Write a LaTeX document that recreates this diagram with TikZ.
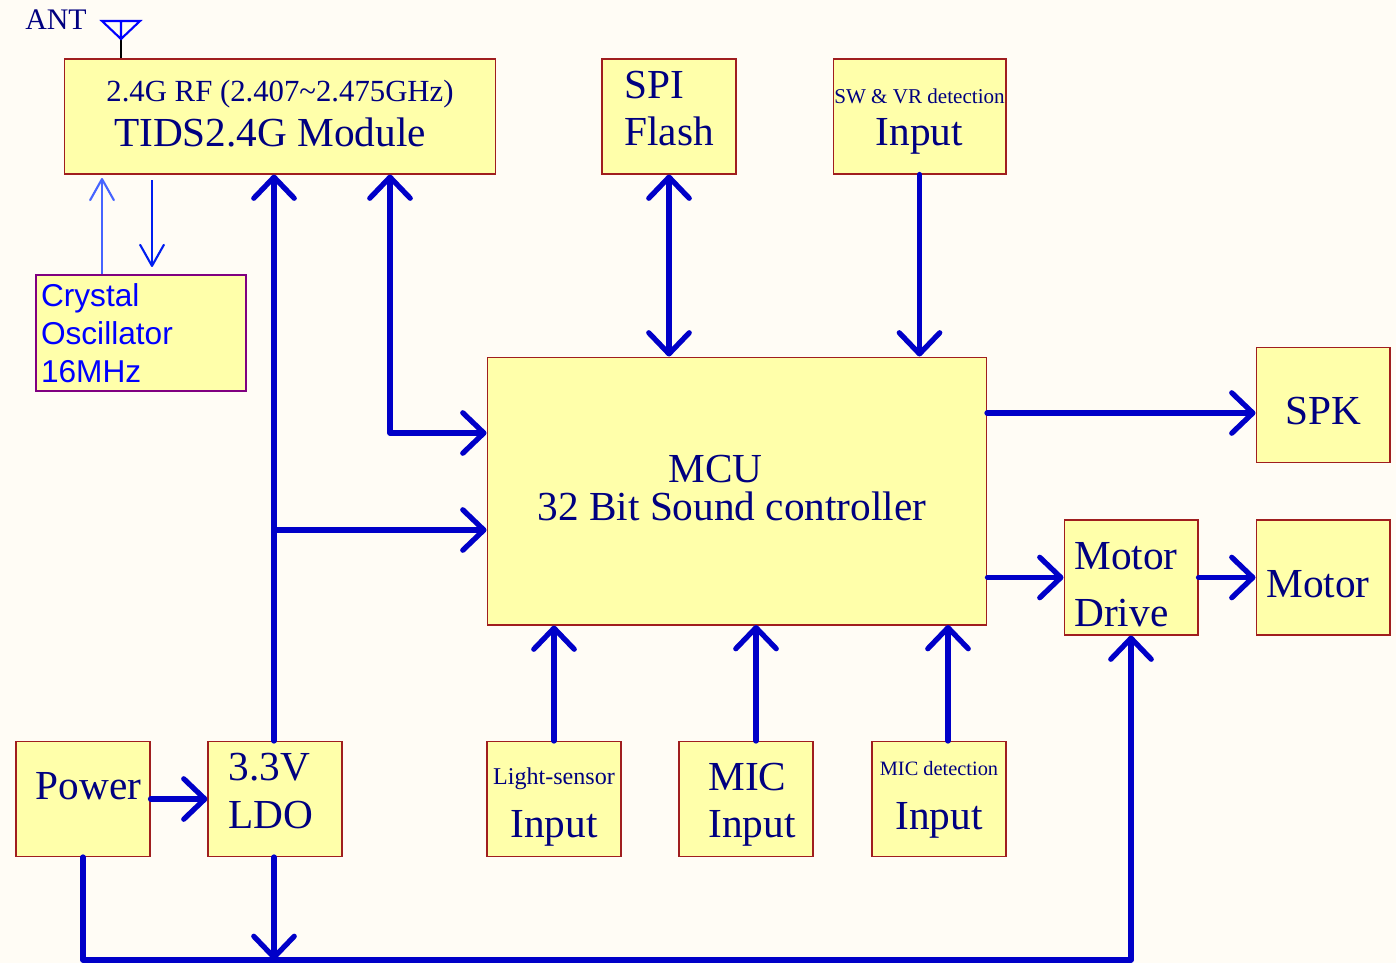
\documentclass[tikz,border=0pt]{standalone}
\usepackage{fontspec}
\setmainfont{Liberation Serif}
\newfontfamily\xtalfont{Liberation Sans}
\usetikzlibrary{arrows.meta,calc}
\definecolor{bgpaper}{RGB}{255,252,245}
\definecolor{boxfill}{RGB}{255,255,170}
\definecolor{boxedge}{RGB}{160,30,30}
\definecolor{wirec}{RGB}{0,0,200}
\definecolor{navytxt}{RGB}{0,0,128}
\definecolor{xtaltxt}{RGB}{0,0,255}
\definecolor{xtaledge}{RGB}{128,0,128}
\definecolor{clkup}{RGB}{70,100,255}
\definecolor{clkdn}{RGB}{0,30,240}
\definecolor{antblue}{RGB}{0,0,255}
\newcommand\subtxt[2]{{\fontsize{#1}{#1}\selectfont #2}}
\newcommand\padw[1]{\hbox to #1{}}

\begin{document}
\begin{tikzpicture}[x=0.02cm, y=-0.02cm,
  blk/.style={rectangle, draw=boxedge, line width=0.6pt, fill=boxfill, text=navytxt, inner sep=0pt, anchor=center, align=center, font=\fontsize{23.5}{27}\selectfont},
  sq/.style={blk, minimum width=2.68cm, minimum height=2.3cm},
  wire/.style={line width=3pt, wirec, line cap=round, line join=round},
  tip/.style={wire, -{Straight Barb[length=12pt, width=23pt, round]}},
  tips/.style={wire, {Straight Barb[length=12pt, width=23pt, round]}-{Straight Barb[length=12pt, width=23pt, round]}},
  clk/.style={line width=1.2pt, -{Straight Barb[length=12pt, width=13.5pt, round]}}
]
% Paper
\fill[bgpaper] (0,0) rectangle (1396,963);
\useasboundingbox (0,0) rectangle (1396,963);
% Top row
\node[font=\fontsize{17}{17}\selectfont, text=navytxt, anchor=base west, inner sep=0pt] (ant) at (25,30) {ANT};
\node[blk, minimum width=8.64cm, minimum height=2.3cm, font=\fontsize{23.5}{25.9}\selectfont, text height=34.2pt, text depth=0pt] (rf) at (280,116.5) {\subtxt{17.5}{2.4G RF (2.407\textasciitilde2.475GHz)}\\TIDS2.4G Module\padw{11.3pt}};
\node[sq, align=left, font=\fontsize{23.5}{26.9}\selectfont, text height=33.1pt, text depth=0pt] (spi) at (669,116.5) {SPI\\Flash};
\node[blk, minimum width=3.46cm, minimum height=2.3cm, font=\fontsize{23.5}{24.4}\selectfont, text height=33.5pt, text depth=0pt] (sw) at (919.5,116.5) {\subtxt{12}{SW \& VR detection}\\Input};
% Clock source
\node[blk, draw=xtaledge, line width=1.2pt, text=xtaltxt, minimum width=4.2cm, minimum height=2.32cm, text width=4cm, inner xsep=0.1cm, align=left, font=\xtalfont\fontsize{18}{21.5}\selectfont] (xtal) at (141,333) {Crystal\\Oscillator\\16MHz};
% Controller and outputs
\node[blk, minimum width=10cm, minimum height=5.36cm, font=\fontsize{23.5}{21.7}\selectfont, text height=34pt, text depth=0pt] (mcu) at (737,491) {MCU\padw{24.6pt}\\32 Bit Sound controller\padw{5.7pt}};
\node[sq, text height=21.9pt, text depth=0pt] (spk) at (1323,405) {SPK};
\node[sq, align=left, font=\fontsize{23.5}{32.5}\selectfont, text height=55.8pt, text depth=0pt] (md) at (1131,577.5) {Motor\padw{5.7pt}\\Drive};
\node[sq, text height=22.9pt, text depth=0pt] (mot) at (1323,577.5) {Motor\padw{5.7pt}};
% Bottom row
\node[sq, text height=1.1pt, text depth=0pt] (pwr) at (83,799) {\padw{6.2pt}Power};
\node[sq, align=left, font=\fontsize{23.5}{27.4}\selectfont, text height=33.2pt, text depth=0pt] (ldo) at (275,799) {3.3V\\LDO\padw{4.5pt}};
\node[sq, font=\fontsize{23.5}{30.2}\selectfont, text height=43.4pt, text depth=0pt] (lgt) at (554,799) {\subtxt{13.7}{Light-sensor}\\Input};
\node[sq, align=left, font=\fontsize{23.5}{26.8}\selectfont, text height=43.4pt, text depth=0pt] (mic) at (746,799) {\padw{6.8pt}MIC\\\padw{6.8pt}Input};
\node[sq, font=\fontsize{23.5}{30.4}\selectfont, text height=34.4pt, text depth=0pt] (micd) at (939,799) {\subtxt{11.6}{MIC detection}\\Input};
% Antenna
\coordinate (antfoot) at (121,39);
\draw[black, line width=0.8pt] (antfoot |- rf.north) -- (antfoot);
\draw[antblue, line width=1.2pt] (antfoot) -- ++(-19,-18) -- ++(38,0) -- cycle (antfoot) -- ++(0,-18);
% Bends and taps
\coordinate (rfx) at (390,433);
\coordinate (pwrx) at (274,530);
\coordinate (spkx) at (987,413);
\coordinate (micx) at (756,625);
\coordinate (micdx) at (948,625);
\coordinate (bus) at (0,960);
% Supply
\draw[tip] (ldo.north -| pwrx) -- (pwrx |- rf.south);
\draw[tip] (pwrx) -- (pwrx -| mcu.west);
\draw[tip] (pwr.east) -- (ldo.west);
\draw[tip] (pwr.south) -- (pwr.south |- bus) -- (bus -| md.south) -- (md.south);
\draw[tip] (ldo.south -| pwrx) -- (pwrx |- bus);
% Data
\draw[tips] (rfx |- rf.south) -- (rfx) -- (rfx -| mcu.west);
\draw[tips] (spi.south) -- (spi.south |- mcu.north);
\draw[tip] (sw.south) -- (sw.south |- mcu.north);
\draw[tip] (spkx) -- (spkx -| spk.west);
\draw[tip] (mcu.east |- md.west) -- (md.west);
\draw[tip] (md.east) -- (mot.west);
\draw[tip] (lgt.north) -- (lgt.north |- mcu.south);
\draw[tip] (micx |- mic.north) -- (micx);
\draw[tip] (micdx |- micd.north) -- (micdx);
% Clock
\coordinate (clkin) at (102,178);
\coordinate (clkdrv) at (152,180);
\draw[clk, clkup] (clkin |- xtal.north) -- (clkin);
\draw[clk, clkdn] (clkdrv) -- ([yshift=0.14cm]clkdrv |- xtal.north);
\end{tikzpicture}
\end{document}
